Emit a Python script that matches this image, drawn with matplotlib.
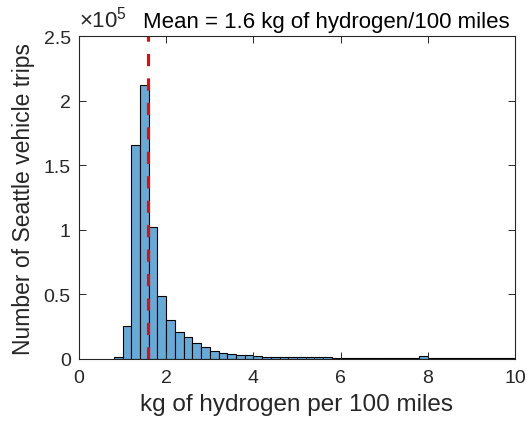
import matplotlib
matplotlib.use("Agg")
import matplotlib.pyplot as plt
import numpy as np
from matplotlib.ticker import FuncFormatter

plt.rcParams['font.family'] = ['Liberation Sans', 'DejaVu Sans']
plt.rcParams['mathtext.fontset'] = 'custom'
plt.rcParams['mathtext.rm'] = 'Liberation Sans'
plt.rcParams['mathtext.it'] = 'Liberation Sans'

# Data: histogram bins (left edges, width 0.2) and counts
bin_left = [0.8, 1.0, 1.2, 1.4, 1.6, 1.8, 2.0, 2.2, 2.4, 2.6, 2.8, 3.0, 3.2, 3.4,
            3.6, 3.8, 4.0, 4.2, 4.4, 4.6, 4.8, 5.0, 5.2, 5.4, 5.6, 5.8, 6.0, 6.2,
            6.4, 6.6, 6.8, 7.0, 7.2, 7.4, 7.6, 7.8, 8.0, 8.2, 8.4, 8.6, 8.8, 9.0,
            9.2, 9.4, 9.6, 9.8]
counts = [1800, 25300, 165500, 212500, 102000, 49000, 30500, 20600, 16800, 12100,
          9000, 6000, 4800, 4100, 3100, 2800, 2200, 1800, 1600, 1500, 1400, 1300,
          1250, 1200, 1150, 1100, 1050, 1000, 980, 950, 920, 900, 880, 860, 850, 2000,
          820, 800, 790, 780, 770, 760, 750, 740, 730, 720]
bin_width = 0.2
mean_value = 1.58

x_ticks = [0, 2, 4, 6, 8, 10]
y_ticks = [0, 0.5e5, 1e5, 1.5e5, 2e5, 2.5e5]

fig = plt.figure(figsize=(5.27, 4.27), dpi=100)
ax = fig.add_axes([0.150, 0.157, 0.827, 0.756])

ax.bar(bin_left, counts, width=bin_width, align='edge',
       color='#66AAD7', edgecolor='black', linewidth=0.8)
ax.axvline(mean_value, color='red', linestyle=(0, (4, 4)), linewidth=2.2)

ax.set_xlim(0, 10)
ax.set_ylim(0, 2.5e5)
ax.set_xticks(x_ticks)
ax.set_yticks(y_ticks)
ax.yaxis.set_major_formatter(FuncFormatter(lambda v, p: '%g' % (v / 1e5)))

axis_col = '#262626'
for s in ax.spines.values():
    s.set_color(axis_col)
    s.set_linewidth(0.8)
ax.tick_params(direction='in', length=5, width=0.7, colors=axis_col,
               labelsize=14, top=True, right=True, labelcolor=axis_col)
ax.tick_params(axis='x', pad=7)
ax.tick_params(axis='y', pad=6)

ax.set_xlabel('kg of hydrogen per 100 miles', fontsize=17.5, color=axis_col, labelpad=5)
ax.set_ylabel('Number of Seattle vehicle trips', fontsize=16.5, color=axis_col, labelpad=6)

ax.text(0.0, 1.015, r'$\times10^{5}$', transform=ax.transAxes, fontsize=16,
        color=axis_col, ha='left', va='bottom')
fig.text(143 / 527, 0.934, 'Mean = 1.6 kg of hydrogen/100 miles', fontsize=16,
         ha='left', va='baseline', color='black')

fig.savefig('out.png', dpi=100)
